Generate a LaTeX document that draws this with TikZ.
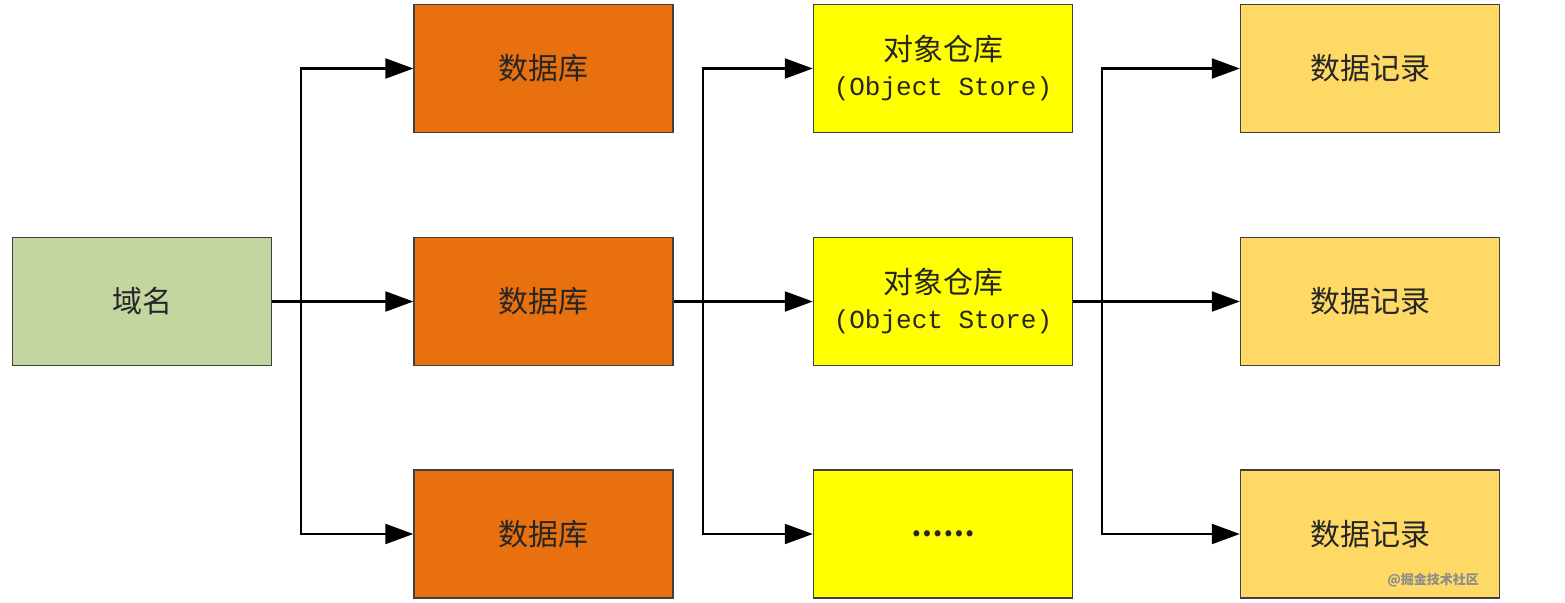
\documentclass[tikz,border=0pt]{standalone}
\usepackage{fontspec}
\newfontfamily\cjk{Noto Sans CJK SC}
\newfontfamily\mono{Liberation Mono}
\usetikzlibrary{arrows.meta}
\definecolor{cgreen}{HTML}{C4D6A0}
\definecolor{corange}{HTML}{E8700E}
\definecolor{cyellow}{HTML}{FFFF00}
\definecolor{clight}{HTML}{FFD966}
\definecolor{cborder}{HTML}{404040}
\begin{document}
\begin{tikzpicture}[x=1pt,y=-1pt,
  box/.style={draw=cborder,line width=1.4pt,minimum width=259pt,minimum height=128pt,inner sep=0pt,align=center,text=black!85,font=\cjk\fontsize{30}{35}\selectfont},
  conn/.style={line width=2.2pt,-{Triangle[length=28pt,width=20pt]}},
  bare/.style={line width=2.2pt}]
\useasboundingbox (0,0) rectangle (1565,602);
\node[box,fill=cgreen] (dm) at (142,301.5) {域名};
\node[box,fill=corange] (db1) at (543.5,68.5) {数据库};
\node[box,fill=corange] (db2) at (543.5,301.5) {数据库};
\node[box,fill=corange] (db3) at (543.5,534) {数据库};
\node[box,fill=cyellow] (os1) at (943,68.5) {对象仓库\\[0pt]{\mono\fontsize{26}{30}\selectfont(Object Store)}};
\node[box,fill=cyellow] (os2) at (943,301.5) {对象仓库\\[0pt]{\mono\fontsize{26}{30}\selectfont(Object Store)}};
\node[box,fill=cyellow] (os3) at (943,534) {\textbf{\fontsize{28}{32}\selectfont ……}};
\node[box,fill=clight] (dr1) at (1370,68.5) {数据记录};
\node[box,fill=clight] (dr2) at (1370,301.5) {数据记录};
\node[box,fill=clight] (dr3) at (1370,534) {数据记录};
\coordinate (j1) at (301,301.5);
\coordinate (j2) at (703,301.5);
\coordinate (j3) at (1102,301.5);
\draw[bare] (dm.east) -- (j1);
\draw[bare] (db2.east) -- (j2);
\draw[bare] (os2.east) -- (j3);
\draw[conn] (j1) |- (db1.west);
\draw[conn] (j1) -- (db2.west);
\draw[conn] (j1) |- (db3.west);
\draw[conn] (j2) |- (os1.west);
\draw[conn] (j2) -- (os2.west);
\draw[conn] (j2) |- (os3.west);
\draw[conn] (j3) |- (dr1.west);
\draw[conn] (j3) -- (dr2.west);
\draw[conn] (j3) |- (dr3.west);
\node[font=\cjk\bfseries\fontsize{13}{15}\selectfont,inner sep=0pt,text=black!45] (wm) at (1433,580.5) {@掘金技术社区};
\end{tikzpicture}
\end{document}
